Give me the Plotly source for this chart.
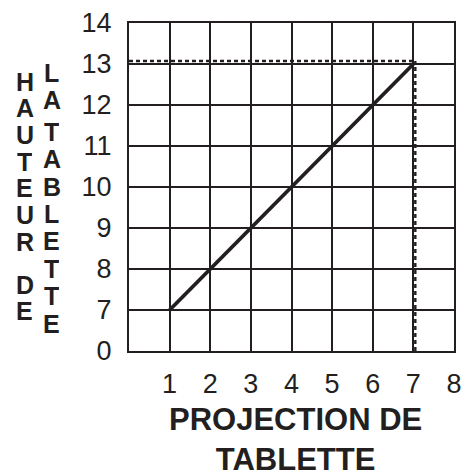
import plotly.graph_objects as go

# Shelf projection vs. shelf height
projection = [1, 7]
hauteur = [7, 13]

x_tick_vals = [1, 2, 3, 4, 5, 6, 7, 8]
y_tick_vals = [6, 7, 8, 9, 10, 11, 12, 13, 14]
y_tick_text = ["0", "7", "8", "9", "10", "11", "12", "13", "14"]

x_title = "PROJECTION DE<br>TABLETTE"
y_title_cols = ["HAUTEUR DE", "LA TABLETTE"]

W, H = 470, 476
ML, MR, MT, MB = 129, 8, 16, 125
PW, PH = W - ML - MR, H - MT - MB

FONT = "Liberation Sans, Arial, sans-serif"
INK = "#231f20"

x_min, x_max = 0, 8
y_min, y_max = 6, 14

# small offsets (in data units) so the guide lines sit beside the grid lines
dx_guide = 2 / PW * (x_max - x_min)
dy_guide = 3 / PH * (y_max - y_min)

fig = go.Figure()

x_end, y_end = projection[-1], hauteur[-1]
fig.add_trace(go.Scatter(
    x=[x_min, x_end], y=[y_end + dy_guide, y_end + dy_guide],
    mode="lines", line=dict(color=INK, width=2.4, dash="4px,3px"),
    hoverinfo="skip", showlegend=False,
))
fig.add_trace(go.Scatter(
    x=[x_end + dx_guide, x_end + dx_guide], y=[y_min, y_end + dy_guide],
    mode="lines", line=dict(color=INK, width=2.4, dash="4px,3px"),
    hoverinfo="skip", showlegend=False,
))
fig.add_trace(go.Scatter(
    x=projection, y=hauteur, mode="lines",
    line=dict(color=INK, width=3.8), showlegend=False,
))


def px_to_paper(px, py):
    return (px - ML) / PW, (H - MB - py) / PH


annotations = []
# vertical stacked letters for the y title
col_specs = [(22, 76, 27.2, 17), (50, 67, 28.0, 4)]
for text, (cx, y0, step, gap) in zip(y_title_cols, col_specs):
    y = y0
    for ch in text:
        if ch == " ":
            y += gap
            continue
        xp, yp = px_to_paper(cx, y)
        annotations.append(dict(
            text=f"<b>{ch}</b>", x=xp, y=yp, xref="paper", yref="paper",
            xanchor="center", yanchor="middle", showarrow=False,
            height=24, valign="middle", borderpad=0,
            font=dict(family=FONT, size=25, color=INK),
        ))
        y += step

xp, yp = px_to_paper(300, 441)
annotations.append(dict(
    text=f"<b>{x_title}</b>", x=xp, y=yp, xref="paper", yref="paper",
    xanchor="center", yanchor="middle", showarrow=False,
    font=dict(family=FONT, size=31, color=INK),
))

axis_common = dict(
    showgrid=True, gridcolor=INK, gridwidth=2,
    showline=True, linecolor=INK, linewidth=2, mirror=True,
    zeroline=False, ticks="", tickfont=dict(family=FONT, size=27, color=INK),
    fixedrange=True,
)

fig.update_layout(
    width=W, height=H,
    margin=dict(l=ML, r=MR, t=MT, b=MB),
    paper_bgcolor="white", plot_bgcolor="white",
    xaxis=dict(range=[x_min, x_max], tickmode="array", tickvals=x_tick_vals,
               ticklabelstandoff=8, **axis_common),
    yaxis=dict(range=[y_min, y_max], tickvals=y_tick_vals, ticktext=y_tick_text,
               ticklabelstandoff=10, **axis_common),
    annotations=annotations,
)

fig.write_html("out.html")
